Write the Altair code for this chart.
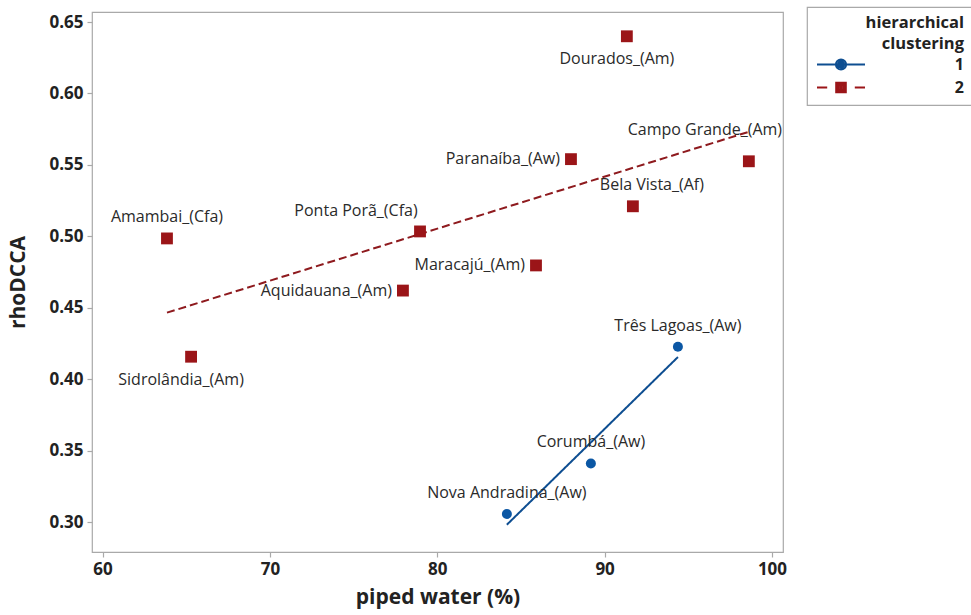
import altair as alt
import pandas as pd

# ---------------- data ----------------
cities = ["Dourados_(Am)", "Campo Grande_(Am)", "Paranaíba_(Aw)", "Bela Vista_(Af)",
          "Amambai_(Cfa)", "Ponta Porã_(Cfa)", "Maracajú_(Am)", "Aquidauana_(Am)",
          "Sidrolândia_(Am)", "Três Lagoas_(Aw)", "Corumbá_(Aw)", "Nova Andradina_(Aw)"]
piped_water = [91.33, 98.62, 87.99, 91.69, 63.85, 78.97, 85.90, 77.95, 65.29, 94.38, 89.18, 84.16]
rho_dcca = [0.640, 0.5525, 0.554, 0.521, 0.4985, 0.5034, 0.4796, 0.462, 0.4157, 0.4227, 0.341, 0.3056]
cluster = ["2", "2", "2", "2", "2", "2", "2", "2", "2", "1", "1", "1"]
label_side = ["S", "NNW", "W", "NE", "N", "NW", "W", "W", "S", "N", "N", "N"]

x_ticks = [60, 70, 80, 90, 100]
y_ticks = [0.30, 0.35, 0.40, 0.45, 0.50, 0.55, 0.60, 0.65]
clusters = ["1", "2"]

df = pd.DataFrame({"city": cities, "pw": piped_water, "rho": rho_dcca,
                   "cluster": cluster, "side": label_side})

# ---------------- styles ----------------
BLUE = "#0B57A4"
RED = "#9B1518"
LINE_BLUE = "#0E4E91"
LINE_RED = "#8E1A1E"
FONT = "Open Sans"
TXT = "#222222"
FRAME = "#a9a9a9"

placements = {
    "N": dict(align="center", dx=0, dy=-21),
    "NE": dict(align="center", dx=19, dy=-21),
    "S": dict(align="center", dx=-10, dy=23),
    "W": dict(align="right", dx=-11, dy=0),
    "NW": dict(align="center", dx=-64, dy=-20),
    "NNW": dict(align="center", dx=-44, dy=-31),
}


# legend glyphs (line + marker), drawn with strokes only
def ring(r, c=3.0):
    return f"M{c + r},0A{r},{r},0,1,1,{c - r},0A{r},{r},0,1,1,{c + r},0Z"


def box(h, c=3.0):
    return f"M{c - h},{-h}L{c + h},{-h}L{c + h},{h}L{c - h},{h}Z"


GLYPH_1 = "M-1,0L7,0" + ring(0.85) + ring(0.5) + ring(0.17)
GLYPH_2 = "M-1,0L0.7,0M5.3,0L7,0" + box(0.8) + box(0.47) + box(0.13)
symbol_expr = f"datum.value == '2' ? '{GLYPH_2}' : '{GLYPH_1}'"

x_enc = alt.X("pw:Q", scale=alt.Scale(domain=[59.37, 100.66], nice=False, zero=False),
              axis=alt.Axis(values=x_ticks, title="piped water (%)", format="d"))
y_enc = alt.Y("rho:Q", scale=alt.Scale(domain=[0.279, 0.657], nice=False, zero=False),
              axis=alt.Axis(values=y_ticks, title="rhoDCCA", format=".2f"))
color_enc = alt.Color("cluster:N", scale=alt.Scale(domain=clusters, range=[LINE_BLUE, LINE_RED]),
                      legend=None)

base = alt.Chart(df)

lines = base.transform_regression("pw", "rho", groupby=["cluster"]).mark_line(
    strokeWidth=2, clip=True
).encode(
    x=x_enc, y=y_enc, color=color_enc,
    strokeDash=alt.StrokeDash("cluster:N", scale=alt.Scale(domain=clusters, range=[[1, 0], [8, 4]]),
                              legend=None),
)

circles = base.transform_filter("datum.cluster == '1'").mark_point(
    shape="circle", filled=True, size=100, opacity=1, color=BLUE
).encode(x=x_enc, y=y_enc)

squares = base.transform_filter("datum.cluster == '2'").mark_point(
    shape="square", filled=True, size=140, opacity=1, color=RED
).encode(x=x_enc, y=y_enc)

text_layers = []
for side, p in placements.items():
    text_layers.append(
        base.transform_filter(alt.datum.side == side).mark_text(
            font=FONT, fontSize=16, color="#2a2a2a", baseline="middle", **p
        ).encode(x=x_enc, y=y_enc, text="city:N")
    )

legend_def = alt.Legend(title=["hierarchical", "clustering"], symbolOpacity=1,
                        symbolType={"expr": symbol_expr},
                        orient="none", legendX=715, legendY=-5)
# invisible layer that only carries the legend
carrier = base.mark_point(opacity=0, strokeWidth=2, filled=False).encode(
    x=x_enc, y=y_enc,
    color=alt.Color("cluster:N", scale=alt.Scale(domain=clusters, range=[LINE_BLUE, RED]),
                    legend=legend_def),
)

chart = alt.layer(lines, circles, squares, *text_layers, carrier).resolve_scale(
    color="independent"
).properties(
    width=691, height=540,
    autosize=alt.AutoSizeParams(type="none"),
    padding={"left": 92, "top": 12, "right": 188, "bottom": 63},
    background="white",
).configure_view(
    stroke=FRAME, strokeWidth=1.2
).configure_axis(
    grid=False, domain=False, ticks=True, tickColor=FRAME, tickSize=5, tickWidth=1.2,
    labelFont=FONT, labelFontSize=17, labelFontWeight="bold", labelColor=TXT, labelPadding=4,
    titleFont=FONT, titleFontSize=21, titleFontWeight="bold", titleColor=TXT,
).configure_axisX(
    titlePadding=9
).configure_axisY(
    titlePadding=20
).configure_legend(
    strokeColor=FRAME, strokeWidth=1.2, padding=8, cornerRadius=0, fillColor="white",
    titleFont=FONT, titleFontSize=16.5, titleFontWeight="bold", titleColor=TXT,
    titleAnchor="end", titleAlign="right", titleLineHeight=21, titlePadding=4,
    labelFont=FONT, labelFontSize=16, labelFontWeight="bold", labelColor=TXT,
    labelAlign="right", labelOffset=133, symbolSize=144, symbolStrokeWidth=2, rowPadding=4,
)

chart.save("out.html", embed_options={"renderer": "svg", "actions": False})
